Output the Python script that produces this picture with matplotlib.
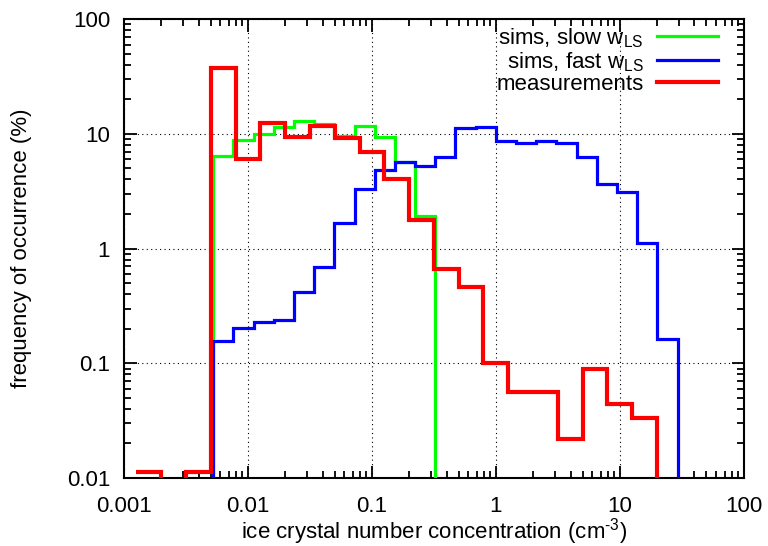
import matplotlib
matplotlib.use("Agg")
import matplotlib.pyplot as plt
from matplotlib.ticker import LogLocator, FuncFormatter, NullFormatter

plt.rcParams['font.family'] = ['Liberation Sans', 'DejaVu Sans']
plt.rcParams['mathtext.default'] = 'regular'

# bin edges of the simulated histograms (cm-3)
sim_edges = [0.00524, 0.00763, 0.0111, 0.0162, 0.0235, 0.0342, 0.0498, 0.0724,
             0.105, 0.153, 0.223, 0.325, 0.472, 0.687, 1.0, 1.455, 2.117,
             3.08, 4.48, 6.52, 9.49, 13.8, 20.1, 29.2]
# sims, slow w_LS (%)
slow = [6.4, 8.8, 9.9, 11.4, 12.9, 12.3, 9.6, 11.7, 9.4, 5.7, 1.94]
# sims, fast w_LS (%)
fast = [0.158, 0.204, 0.228, 0.239, 0.42, 0.69, 1.67, 3.3, 4.8, 5.65, 5.2,
        6.3, 11.3, 11.5, 8.7, 8.3, 8.7, 8.3, 6.3, 3.65, 3.1, 1.12, 0.163]

# measurement bins (cm-3), 5 per decade
meas_edges = [0.00126, 0.002, 0.00316, 0.00501, 0.00794, 0.0126, 0.02, 0.0316,
              0.0501, 0.0794, 0.126, 0.2, 0.316, 0.501, 0.794, 1.26, 2.0,
              3.16, 5.01, 7.94, 12.6, 19.95, 31.6]
meas = [0.0113, 0, 0.0113, 37.5, 6.0, 12.4, 9.4, 11.6, 9.2, 7.0, 4.0, 1.78,
        0.67, 0.46, 0.1, 0.056, 0.056, 0.022, 0.089, 0.044, 0.0334, 0]

fs = 16

fig = plt.figure(figsize=(7.68, 5.46), dpi=100)
ax = fig.add_axes([0.1615, 0.1245, 0.807, 0.8405])

ax.stairs(slow, sim_edges[:len(slow) + 1], baseline=0, color='#00ff00', lw=2.3,
          label='sims, slow w$_{LS}$', zorder=3)
ax.stairs(fast, sim_edges[:len(fast) + 1], baseline=0, color='#0000ff', lw=2.3,
          label='sims, fast w$_{LS}$', zorder=4)
ax.stairs(meas, meas_edges, baseline=None, color='#ff0000', lw=3.0,
          label='measurements', zorder=5)

ax.set_xscale('log')
ax.set_yscale('log')
ax.set_xlim(0.001, 100)
ax.set_ylim(0.01, 100)

fmt = FuncFormatter(lambda v, p: '%g' % v)
for axis in (ax.xaxis, ax.yaxis):
    axis.set_major_locator(LogLocator(base=10, numticks=10))
    axis.set_minor_locator(LogLocator(base=10, subs=range(2, 10), numticks=20))
    axis.set_major_formatter(fmt)
    axis.set_minor_formatter(NullFormatter())

ax.tick_params(which='both', direction='in', top=True, right=True, width=1.3,
               labelsize=fs, color='black')
ax.tick_params(which='major', length=9, pad=10)
ax.tick_params(axis='x', which='major', pad=13)
ax.tick_params(which='minor', length=5)
for s in ax.spines.values():
    s.set_linewidth(1.5)

ax.grid(True, which='major', color='black', linestyle=(0, (1, 3)), lw=0.8)

ax.set_xlabel('ice crystal number concentration (cm$^{\u20103}$)', fontsize=fs, labelpad=-1)
ax.set_ylabel('frequency of occurrence (%)', fontsize=fs, labelpad=25)

leg = ax.legend(loc='upper right', bbox_to_anchor=(0.958, 0.985), frameon=False,
                markerfirst=False, fontsize=fs, handlelength=2.75, handletextpad=0.6,
                labelspacing=0.02, borderpad=0, borderaxespad=0)

fig.savefig('out.png', dpi=100)
